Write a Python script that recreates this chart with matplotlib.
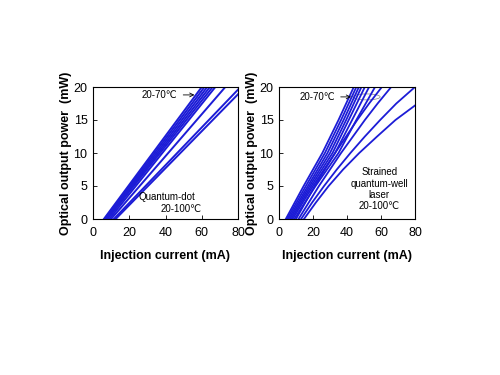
import matplotlib
matplotlib.use("Agg")
import matplotlib.pyplot as plt
from matplotlib.patches import Ellipse

plt.rcParams['font.family'] = ['Liberation Sans', 'DejaVu Sans']

# quantum-dot laser, 20-100 C (straight lines: threshold -> end point)
qd_x = [[6, 60], [6.5, 61.5], [7, 63], [7.5, 64.5], [8, 66], [9, 67.5],
        [10, 73], [11.5, 80], [12.5, 80]]
qd_y = [[0, 20], [0, 20], [0, 20], [0, 20], [0, 20], [0, 20],
        [0, 20], [0, 19.6], [0, 18.9]]

# strained quantum-well laser, 20-100 C
qw_p = [0, 5, 10, 15, 20]
qw_x = [
    [4.0, 14.5, 25.5, 35.0, 44.0],
    [4.8, 15.8, 27.0, 36.5, 45.5],
    [5.6, 17.0, 28.5, 38.0, 47.0],
    [6.4, 18.0, 30.0, 39.5, 48.5],
    [7.2, 19.0, 31.5, 41.0, 50.5],
    [8.0, 20.0, 33.0, 43.0, 53.0],
    [9.0, 21.5, 35.0, 45.5, 56.5],
]
# the hotter curves bend more, read at finer steps
qw_p_fine = [0, 2.5, 5, 7.5, 10, 12.5, 15, 17.5, 20]
qw_x_fine = [
    [10.0, 15.5, 21.0, 27.0, 33.0, 39.5, 46.0, 53.0, 60.5],
    [11.5, 17.5, 23.5, 30.0, 36.5, 43.5, 50.5, 58.0, 66.0],
    [13.0, 19.5, 26.5, 34.0, 42.0, 50.5, 59.5, 69.0, 80.0],
]
qw_last_x = [14.7, 21.7, 29.2, 37.7, 47.2, 57.7, 68.5, 80]
qw_last_y = [0, 2.5, 5, 7.5, 10, 12.5, 15, 17.2]

blue = '#1c1cd6'
xticks = [0, 20, 40, 60, 80]
yticks = [0, 5, 10, 15, 20]

fig = plt.figure(figsize=(5, 3.75), dpi=100)
ax1 = fig.add_axes([0.186, 0.416, 0.29, 0.352])
ax2 = fig.add_axes([0.558, 0.416, 0.272, 0.352])

for xs, ys in zip(qd_x, qd_y):
    ax1.plot(xs, ys, color=blue, lw=1.4)
for xs in qw_x:
    ax2.plot(xs, qw_p, color=blue, lw=1.3)
for xs in qw_x_fine:
    ax2.plot(xs, qw_p_fine, color=blue, lw=1.3)
ax2.plot(qw_last_x, qw_last_y, color=blue, lw=1.3)

for ax in (ax1, ax2):
    ax.set_xlim(0, 80)
    ax.set_ylim(0, 20)
    ax.set_xticks(xticks)
    ax.set_yticks(yticks)
    ax.tick_params(direction='in', length=3, width=0.6, labelsize=9)
    ax.tick_params(axis='x', pad=6)
    ax.tick_params(axis='y', pad=4)
    for s in ax.spines.values():
        s.set_linewidth(0.8)
    ax.set_xlabel('Injection current (mA)', fontsize=9, fontweight='bold', labelpad=8)
    ax.set_ylabel('Optical output power  (mW)', fontsize=9, fontweight='bold', labelpad=1)

# left annotations
ax1.annotate('20-70℃', xy=(57.5, 18.8), xytext=(27, 18.8), fontsize=7, va='center',
             arrowprops=dict(arrowstyle='->', lw=0.6, color='black'))
ax1.add_patch(Ellipse((59, 18.8), 3.5, 1.0, fill=False, lw=0.5, color='gray'))
ax1.text(41, 3.3, 'Quantum-dot', fontsize=7, ha='center', va='center')
ax1.text(48.5, 1.5, '20-100℃', fontsize=7, ha='center', va='center')

# right annotations
ax2.annotate('20-70℃', xy=(44, 18.5), xytext=(12, 18.5), fontsize=7, va='center',
             arrowprops=dict(arrowstyle='->', lw=0.6, color='black'))
ax2.add_patch(Ellipse((51.5, 18.5), 16, 0.9, fill=False, lw=0.5, color='gray'))
ax2.text(59, 7.1, 'Strained', fontsize=7, ha='center', va='center')
ax2.text(59, 5.3, 'quantum-well', fontsize=7, ha='center', va='center')
ax2.text(59, 3.6, 'laser', fontsize=7, ha='center', va='center')
ax2.text(59, 2.0, '20-100℃', fontsize=7, ha='center', va='center')

fig.savefig('out.png', dpi=100)
